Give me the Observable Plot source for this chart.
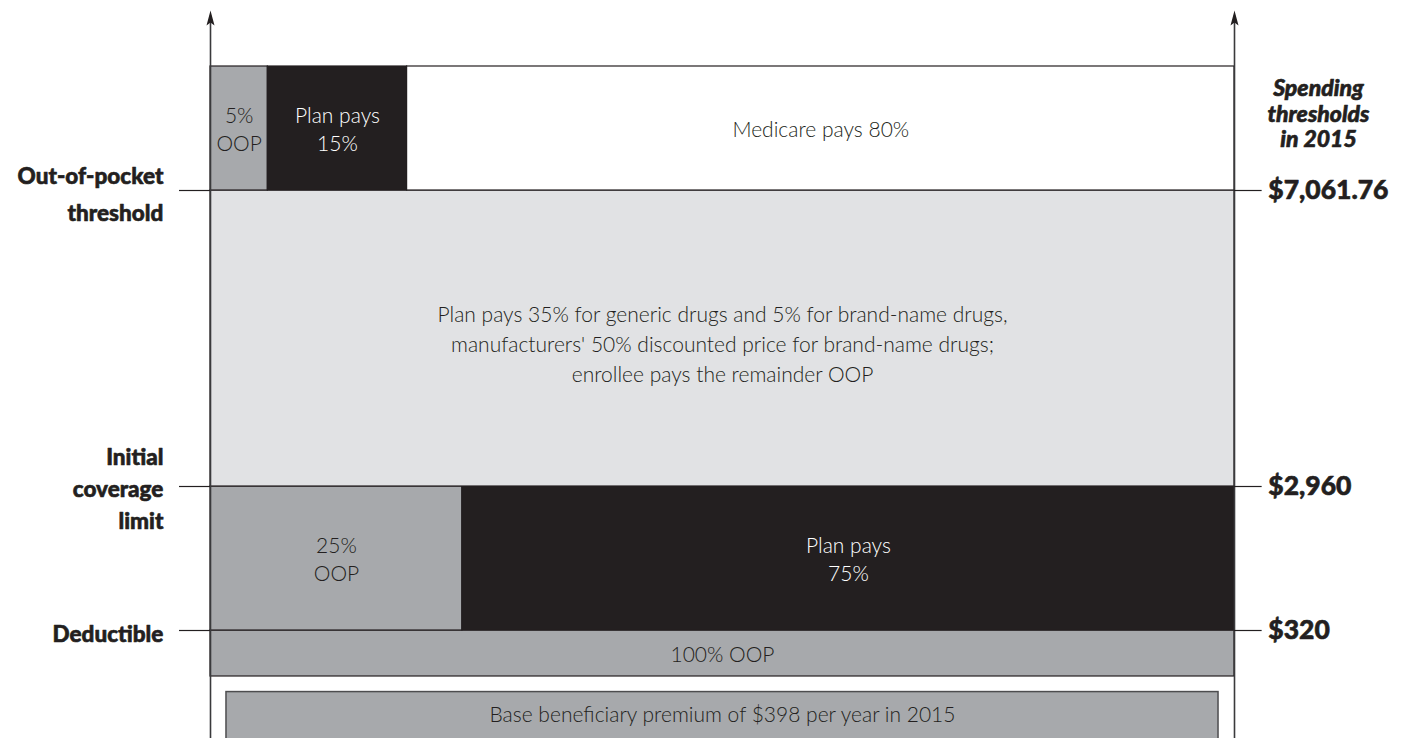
<!DOCTYPE html>
<html>
<head>
<meta charset="utf-8">
<script src="https://cdn.jsdelivr.net/npm/d3@7"></script>
<script src="https://cdn.jsdelivr.net/npm/@observablehq/plot@0.6"></script>
<style>
  html, body { margin: 0; padding: 0; background: #fff; overflow: hidden; }
  #chart svg { display: block; }
</style>
</head>
<body>
<div id="chart"></div>
<script>
// ---- Data ----
const thresholds = [320, 2960, 7061.76];
const thresholdLabels = ["$320", "$2,960", "$7,061.76"];
const thresholdNames = ["Deductible", "Initial\ncoverage\nlimit", "Out-of-pocket\nthreshold"];

// benefit phases (spending ranges, dollars); the catastrophic phase has no upper limit
const phaseNames = ["deductible", "initial", "gap", "catastrophic"];
const phaseLow  = [0, 320, 2960, 7061.76];
const phaseHigh = [320, 2960, 7061.76, 9000];

// segments within each phase: who pays which share (share of width, %)
const segPhase = ["deductible", "initial", "initial", "gap", "catastrophic", "catastrophic", "catastrophic"];
const segPayer = ["oop", "oop", "plan", "gap", "oop", "plan", "medicare"];
const segShare = [100, 24.6, 75.4, 100, 5.6, 13.6, 80.8];
const segText = [
  "100% OOP",
  "25%\nOOP",
  "Plan pays\n75%",
  "Plan pays 35% for generic drugs and 5% for brand-name drugs,\nmanufacturers' 50% discounted price for brand-name drugs;\nenrollee pays the remainder OOP",
  "5%\nOOP",
  "Plan pays\n15%",
  "Medicare pays 80%"
];

const premiumText = "Base beneficiary premium of $398 per year in 2015";
const sideTitle = "Spending\nthresholds\nin 2015";

// ---- Build table ----
const cum = {};
const segments = segPhase.map((p, i) => {
  const k = phaseNames.indexOf(p);
  const start = cum[p] || 0;
  cum[p] = start + segShare[i];
  return {
    phase: p, payer: segPayer[i], text: segText[i],
    x1: start, x2: start + segShare[i],
    y1: phaseLow[k], y2: phaseHigh[k]
  };
});

const fills = {oop: "#a7a9ac", plan: "#231f20", gap: "#e1e2e4", medicare: "#ffffff"};
const ink = "#231f20";

// ---- Scales (piecewise spending axis) ----
const yBottom = -398, yPremiumTop = -100, yPremiumOff = -460, yTop = 10000, yArrowBase = 9900;
const yScale = {
  type: "linear",
  domain: [yBottom, 0, 320, 2960, 7061.76, 9000, yTop],
  range: [738, 676, 630, 486, 190, 66, 10]
};
const xScale = {type: "linear", domain: [0, 100], range: [210, 1234]};

const arrowSymbol = {
  draw(ctx) {
    ctx.moveTo(0, 0);
    ctx.lineTo(4, 15);
    ctx.lineTo(0, 12);
    ctx.lineTo(-4, 15);
    ctx.closePath();
  }
};

const thrData = thresholds.map((v, i) => ({v, label: thresholdLabels[i], name: thresholdNames[i]}));

const light = {fontFamily: "Lato", fontWeight: 300, fontSize: 21};
const heavy = {fontFamily: "Lato", fontWeight: 900, stroke: ink, strokeWidth: 0.6};

const plot = Plot.plot({
  width: 1412,
  height: 738,
  marginTop: 0, marginBottom: 0, marginLeft: 0, marginRight: 0,
  x: {...xScale, axis: null},
  y: {...yScale, axis: null},
  style: {background: "#fff", overflow: "hidden"},
  marks: [
    // premium box
    Plot.rect([premiumText], {x1: 1.56, x2: 98.44, y1: yPremiumOff, y2: yPremiumTop, fill: "#a7a9ac", stroke: "#4d4d4f", strokeWidth: 1.5}),
    // benefit segments
    Plot.rect(segments, {x1: "x1", x2: "x2", y1: "y1", y2: "y2", fill: d => fills[d.payer], stroke: ink, strokeWidth: 1.2}),
    // vertical axes with arrows
    Plot.ruleX([0, 100], {y1: yPremiumOff, y2: yArrowBase, stroke: "#3a3a3c", strokeWidth: 1.6}),
    Plot.dot([0, 100], {x: d => d, y: [yTop, yTop], symbol: arrowSymbol, fill: ink, stroke: "none", r: 4}),
    // threshold ticks
    Plot.ruleY(thrData, {y: "v", x1: -3.03, x2: 0, stroke: ink, strokeWidth: 1.2}),
    Plot.ruleY(thrData, {y: "v", x1: 100, x2: 102.7, stroke: ink, strokeWidth: 1.2}),
    // left threshold names
    Plot.text(thrData.filter(d => d.v !== 2960), {x: -4.6, y: "v", text: "name", textAnchor: "end", fill: ink, fontSize: 22.5, lineHeight: 1.64, ...heavy}),
    Plot.text(thrData.filter(d => d.v === 2960), {x: -4.6, y: "v", text: "name", textAnchor: "end", fill: ink, fontSize: 22.5, lineHeight: 1.42, ...heavy}),
    // right threshold values
    Plot.text(thrData, {x: 103.3, y: "v", text: "label", textAnchor: "start", fill: ink, fontSize: 26.5, ...heavy}),
    Plot.text([sideTitle], {x: 108.2, y: 8030.88, dy: -15, text: d => d, textAnchor: "middle", fill: ink, fontSize: 23, lineHeight: 1.1, fontStyle: "italic", ...heavy}),
    // segment texts
    Plot.text(segments.filter(d => d.phase !== "gap"), {x: d => (d.x1 + d.x2) / 2, y: d => (d.y1 + d.y2) / 2, text: "text", fill: d => d.payer === "plan" ? "#ffffff" : ink, lineHeight: 1.33, ...light}),
    Plot.text(segments.filter(d => d.phase === "gap"), {x: d => (d.x1 + d.x2) / 2, y: d => (d.y1 + d.y2) / 2, dy: 4, text: "text", fill: ink, lineHeight: 1.43, ...light}),
    Plot.text([premiumText], {x: 50, y: (yPremiumTop + yBottom) / 2, text: d => d, fill: ink, ...light})
  ]
});
document.getElementById("chart").append(plot);
</script>
</body>
</html>
